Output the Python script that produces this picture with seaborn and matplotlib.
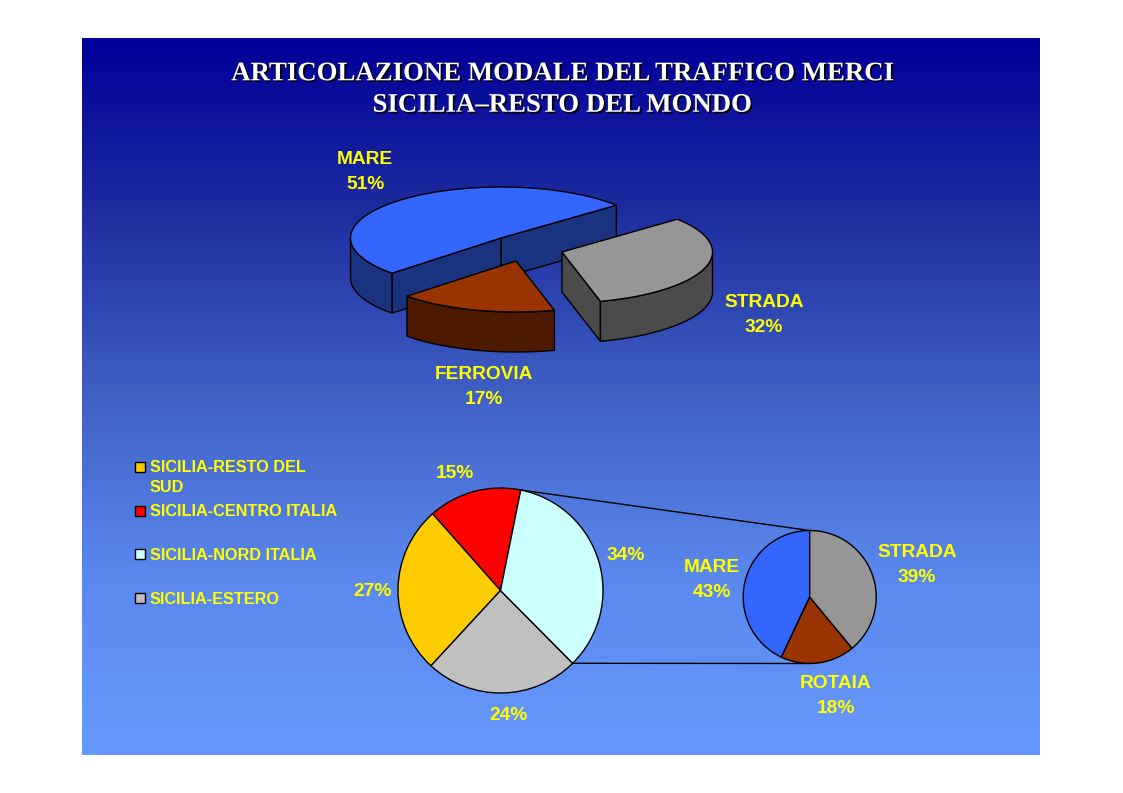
import numpy as np
import seaborn as sns
import matplotlib.pyplot as plt
import matplotlib.patheffects as pe
from matplotlib.patches import Polygon, Rectangle

# top chart: modal split
modes_3d = ["MARE", "FERROVIA", "STRADA"]
shares_3d = [51, 17, 32]
# bottom left chart: destinations
routes = ["SICILIA-CENTRO ITALIA", "SICILIA-RESTO DEL\nSUD", "SICILIA-ESTERO", "SICILIA-NORD ITALIA"]
route_shares = [14.7, 26.6, 24.3, 34.4]
# bottom right chart: detail of nord italia
modes_detail = ["MARE", "ROTAIA", "STRADA"]
detail_shares = [43, 18, 39]

colors_3d = ["#3366ff", "#993300", "#969696"]
sides_3d = ["#1a337f", "#4d1a00", "#4b4b4b"]
colors_routes = ["#ff0000", "#ffcc00", "#c0c0c0", "#ccffff"]
colors_detail = ["#3366ff", "#993300", "#969696"]

W, H = 1123, 793
YELLOW = "#ffff00"


def flip(y):
    return H - y


def slice_3d(ax, start, share, apex, top, side):
    # one extruded slice, angles are on the unsquashed circle
    a, b, depth = 150.5, 51, 40
    cx, cy = apex[0], flip(apex[1])
    end = start + share * 3.6
    t = np.radians(np.linspace(start, end, 120))
    xs, ys = cx + a * np.cos(t), cy + b * np.sin(t)
    # cut faces, only the ones turned to the viewer
    for i, show in ((0, np.cos(t[0]) > 0), (-1, np.cos(t[-1]) < 0)):
        if show:
            ax.add_patch(Polygon([(cx, cy), (xs[i], ys[i]), (xs[i], ys[i] - depth), (cx, cy - depth)],
                                 fc=side, ec="black", lw=1, joinstyle="round"))
    front = np.sin(t) <= 0
    if front.any():
        wx, wy = xs[front], ys[front]
        ax.add_patch(Polygon(np.r_[np.c_[wx, wy], np.c_[wx, wy - depth][::-1]],
                             fc=side, ec="black", lw=1, joinstyle="round"))
    ax.add_patch(Polygon(np.r_[[(cx, cy)], np.c_[xs, ys]], fc=top, ec="black", lw=1, joinstyle="round"))
    return end


def label(ax, x, y, s, size=13.8, ha="center"):
    ax.text(x, flip(y), s, color=YELLOW, fontsize=size, fontweight="bold", ha=ha, va="center",
            linespacing=1.55)


sns.set_theme(style="white")
plt.rcParams["font.family"] = ["Liberation Sans", "DejaVu Sans"]

fig = plt.figure(figsize=(W / 100, H / 100), dpi=100, facecolor="white")
ax = fig.add_axes([0, 0, 1, 1])

# slide background
cmap = sns.blend_palette(["#000099", "#1f2e9f", "#4060c6", "#5a88ee", "#6699ff"], as_cmap=True)
ax.imshow(np.linspace(0, 1, 256).reshape(-1, 1), cmap=cmap, aspect="auto", zorder=0,
          extent=(82, 1040, flip(755), flip(38)))

title = ax.text(562, flip(89.5), "ARTICOLAZIONE MODALE DEL TRAFFICO MERCI\nSICILIA\u2013RESTO DEL MONDO",
                color="white", fontsize=19.3, fontweight="bold", family="Liberation Serif",
                ha="center", va="center", linespacing=1.34)
title.set_path_effects([pe.SimplePatchShadow(offset=(1.3, -1.3), shadow_rgbFace="black", alpha=0.9), pe.Normal()])

# exploded 3d pie
apexes = [(501, 238), (516, 261), (562, 252)]
angle = 40
for share, apex, top, side in zip(shares_3d, apexes, colors_3d, sides_3d):
    angle = slice_3d(ax, angle, share, apex, top, side)

label(ax, 365, 172, f"{modes_3d[0]}\n{shares_3d[0]}%")
label(ax, 484, 387, f"{modes_3d[1]}\n{shares_3d[1]}%")
label(ax, 764, 315, f"{modes_3d[2]}\n{shares_3d[2]}%")

# main flat pie
c1, r1, a1 = (500.5, flip(590.5)), 102.5, 78.6
ax.pie(route_shares, colors=colors_routes, startangle=a1, center=c1, radius=r1, frame=True,
       wedgeprops=dict(edgecolor="black", linewidth=1))
for (x, y), v in zip([(455, 474), (372.5, 592), (508, 715), (626, 556)], route_shares):
    label(ax, x, y, f"{v:.0f}%")

# detail pie
c2, r2 = (809.7, flip(597)), 66.5
ax.pie(detail_shares, colors=colors_detail, startangle=90, center=c2, radius=r2, frame=True,
       wedgeprops=dict(edgecolor="black", linewidth=1))
label(ax, 712, 580, f"{modes_detail[0]}\n{detail_shares[0]}%")
label(ax, 836, 696, f"{modes_detail[1]}\n{detail_shares[1]}%")
label(ax, 917, 565, f"{modes_detail[2]}\n{detail_shares[2]}%")

# connectors from the nord italia slice to the detail pie
t0 = np.radians(a1)
t1 = np.radians(a1 - route_shares[-1] * 3.6)
ax.plot([c1[0] + r1 * np.cos(t0), c2[0]], [c1[1] + r1 * np.sin(t0), c2[1] + r2], color="black", lw=1, zorder=0.5)
ax.plot([c1[0] + r1 * np.cos(t1), c2[0]], [c1[1] + r1 * np.sin(t1), c2[1] - r2], color="black", lw=1, zorder=0.5)

# legend
legend_order = [1, 0, 3, 2]
legend_y = [467, 511, 554, 598]
for i, y in zip(legend_order, legend_y):
    ax.add_patch(Rectangle((134.5, flip(y) - 5), 10.5, 10.5, fc=colors_routes[i], ec="black", lw=1))
    lines = routes[i].split("\n")
    for k, line in enumerate(lines):
        ax.text(150, flip(y + 1 + 19 * k), line, color=YELLOW, fontsize=11.7, fontweight="bold",
                ha="left", va="center")

ax.set_xlim(0, W)
ax.set_ylim(0, H)
ax.axis("off")

fig.savefig("out.png", dpi=100)
